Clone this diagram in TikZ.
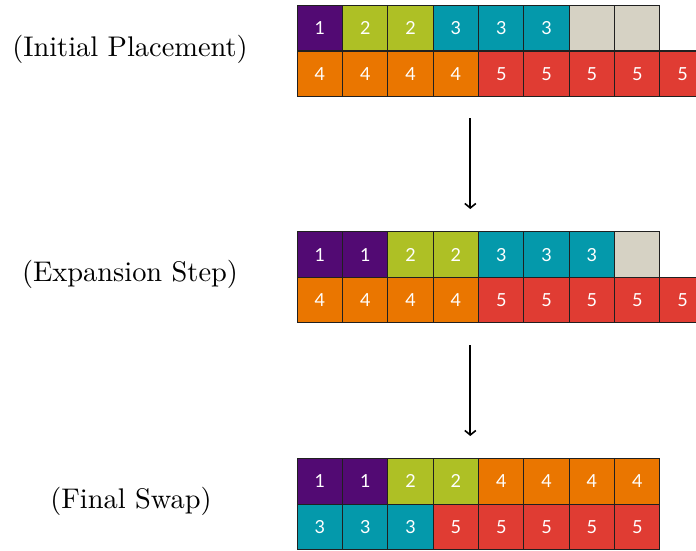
\documentclass[tikz,border=0pt]{standalone}
\usepackage{fontspec}
\newfontfamily\cellfont{Lato}
\usetikzlibrary{arrows.meta}
\definecolor{cpurple}{HTML}{520A73}
\definecolor{cgreen}{HTML}{AEC025}
\definecolor{cteal}{HTML}{0499AB}
\definecolor{corange}{HTML}{EA7600}
\definecolor{cred}{HTML}{E03C33}
\definecolor{cgray}{HTML}{D6D2C4}
\definecolor{cborder}{HTML}{202020}
\tikzset{
  cell/.style={draw=cborder, line width=1.1pt, minimum width=45.33pt, minimum height=45.4pt,
    inner sep=0pt, anchor=north west, text=white,
    font=\cellfont\fontsize{18}{18}\selectfont},
  steplabel/.style={inner sep=0pt, anchor=center},
  flowarrow/.style={line width=2pt, -{Straight Barb[length=4.5pt,width=11pt,line width=1.6pt]}}
}
\newcommand{\bigtext}[1]{\scalebox{2.84}{#1}}
\begin{document}
\begin{tikzpicture}[x=1pt,y=-1pt]
\useasboundingbox (0,0) rectangle (696,550);
\clip (0,0) rectangle (696,550);
% grid 1
\foreach \c/\n [count=\i] in {cpurple/1,cgreen/2,cgreen/2,cteal/3,cteal/3,cteal/3,cgray/{},cgray/{}}
  \node[cell, fill=\c] (ga\i) at ({296.7+(\i-1)*45.33},5) {\n};
\foreach \c/\n [count=\i] in {corange/4,corange/4,corange/4,corange/4,cred/5,cred/5,cred/5,cred/5,cred/5}
  \node[cell, fill=\c] (gb\i) at ({296.7+(\i-1)*45.33},50.4) {\n};
% grid 2
\foreach \c/\n [count=\i] in {cpurple/1,cpurple/1,cgreen/2,cgreen/2,cteal/3,cteal/3,cteal/3,cgray/{}}
  \node[cell, fill=\c] (gc\i) at ({296.7+(\i-1)*45.33},231.3) {\n};
\foreach \c/\n [count=\i] in {corange/4,corange/4,corange/4,corange/4,cred/5,cred/5,cred/5,cred/5,cred/5}
  \node[cell, fill=\c] (gd\i) at ({296.7+(\i-1)*45.33},276.7) {\n};
% grid 3
\foreach \c/\n [count=\i] in {cpurple/1,cpurple/1,cgreen/2,cgreen/2,corange/4,corange/4,corange/4,corange/4}
  \node[cell, fill=\c] (ge\i) at ({296.7+(\i-1)*45.33},458.2) {\n};
\foreach \c/\n [count=\i] in {cteal/3,cteal/3,cteal/3,cred/5,cred/5,cred/5,cred/5,cred/5}
  \node[cell, fill=\c] (gf\i) at ({296.7+(\i-1)*45.33},503.6) {\n};
% labels
\node[steplabel] (l1) at (130,49) {\bigtext{(Initial Placement)}};
\node[steplabel] (l2) at (130,274.5) {\bigtext{(Expansion Step)}};
\node[steplabel] (l3) at (131,501) {\bigtext{(Final Swap)}};
% arrows
\coordinate (a1s) at (470.3,118.3);
\coordinate (a1e) at (470.3,209);
\coordinate (a2s) at (470.3,345);
\coordinate (a2e) at (470.3,436);
\draw[flowarrow] (a1s) -- (a1e);
\draw[flowarrow] (a2s) -- (a2e);
\end{tikzpicture}
\end{document}
